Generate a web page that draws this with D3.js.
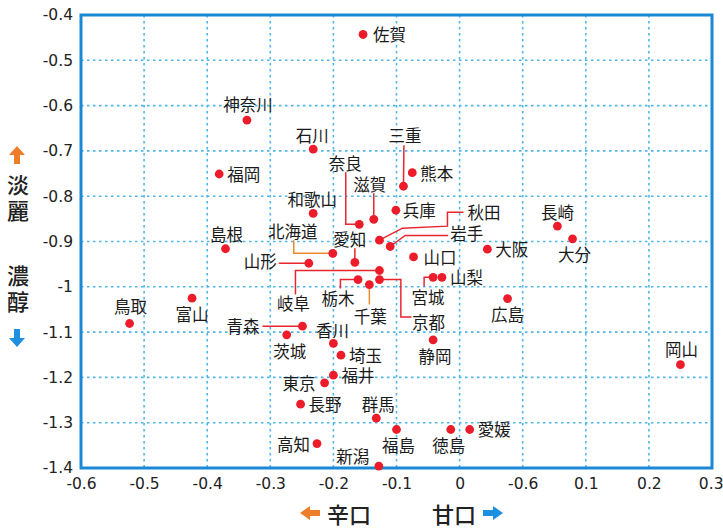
<!DOCTYPE html>
<html lang="ja">
<head>
<meta charset="utf-8">
<script src="https://cdn.jsdelivr.net/npm/d3@7.9.0/dist/d3.min.js"></script>
<style>
  html, body { margin: 0; padding: 0; background: #fff; }
  svg { display: block; }
  .tick text { font-family: "DejaVu Sans", sans-serif; font-size: 15.5px; fill: #222; }
  .pref { font-family: "Noto Sans CJK JP", sans-serif; font-size: 16.5px; fill: #1a1a1a; }
  .title { font-family: "Noto Sans CJK JP", sans-serif; font-size: 22px; fill: #222; font-weight: 500; }
</style>
</head>
<body>
<svg id="chart" width="723" height="528"></svg>
<script>
// prefecture, sweetness (x), richness (y)
const prefectures = ['佐賀', '神奈川', '福岡', '石川', '三重', '熊本', '滋賀', '奈良', '兵庫', '和歌山',
  '秋田', '岩手', '愛知', '北海道', '山形', '岐阜', '山口', '宮城', '山梨', '栃木',
  '千葉', '京都', '青森', '茨城', '香川', '静岡', '埼玉', '福井', '東京', '長野',
  '群馬', '福島', '徳島', '愛媛', '高知', '新潟', '岡山', '長崎', '大分', '大阪',
  '広島', '島根', '鳥取', '富山'];
const sweetness = [-0.153, -0.337, -0.381, -0.232, -0.089, -0.075, -0.136, -0.159, -0.101, -0.232,
  -0.127, -0.110, -0.166, -0.201, -0.239, -0.127, -0.073, -0.042, -0.028, -0.161,
  -0.143, -0.127, -0.249, -0.274, -0.200, -0.042, -0.188, -0.200, -0.214, -0.252,
  -0.132, -0.100, -0.014, 0.016, -0.226, -0.128, 0.350, 0.155, 0.179, 0.044,
  0.076, -0.371, -0.523, -0.424];
const richness = [-0.443, -0.632, -0.751, -0.696, -0.778, -0.748, -0.851, -0.862, -0.831, -0.838,
  -0.897, -0.911, -0.946, -0.926, -0.948, -0.964, -0.934, -0.979, -0.979, -0.984,
  -0.995, -0.984, -1.087, -1.106, -1.125, -1.117, -1.151, -1.195, -1.212, -1.259,
  -1.290, -1.315, -1.315, -1.315, -1.346, -1.396, -1.172, -0.866, -0.894, -0.917,
  -1.026, -0.916, -1.081, -1.025];

const xTicks = [-0.6, -0.5, -0.4, -0.3, -0.2, -0.1, 0, 0.1, 0.2, 0.3, 0.4];
const xTickLabels = ['-0.6', '-0.5', '-0.4', '-0.3', '-0.2', '-0.1', '0', '-0.6', '0.1', '0.2', '0.3'];
const yTicks = [-0.4, -0.5, -0.6, -0.7, -0.8, -0.9, -1, -1.1, -1.2, -1.3, -1.4];
const yTickLabels = ['-0.4', '-0.5', '-0.6', '-0.7', '-0.8', '-0.9', '-1', '-1.1', '-1.2', '-1.3', '-1.4'];

// label placement: [anchor, dx, dy] relative to the dot, plus optional leader path offsets
const labelPos = {
  '佐賀': ['start', 10, 0], '神奈川': ['middle', 1, -16], '福岡': ['start', 8, 0],
  '石川': ['middle', -1, -14], '三重': ['middle', 1.5, -51], '熊本': ['start', 8, 0],
  '滋賀': ['middle', -4, -35], '奈良': ['middle', -14, -61], '兵庫': ['start', 7, 0],
  '和歌山': ['middle', -1, -14], '秋田': ['start', 88, -28], '岩手': ['start', 60, -13],
  '愛知': ['middle', -5, -23], '北海道': ['middle', -40, -22], '山形': ['end', -32, -2],
  '岐阜': ['middle', -86, 33], '山口': ['start', 10, 0], '宮城': ['middle', -5, 20],
  '山梨': ['start', 8, 0], '栃木': ['middle', -20, 18], '千葉': ['middle', 1, 31],
  '京都': ['middle', 49, 42], '青森': ['end', -43, 0], '茨城': ['middle', 3, 16],
  '香川': ['middle', -1, -13], '静岡': ['middle', 2, 16], '埼玉': ['start', 8, 0],
  '福井': ['start', 8, 0], '東京': ['end', -9, 0], '長野': ['start', 8, 0],
  '群馬': ['middle', 2, -14], '福島': ['middle', 2, 16], '徳島': ['middle', -2, 16],
  '愛媛': ['start', 8, 0], '高知': ['end', -7, 0], '新潟': ['middle', -26, -10],
  '岡山': ['middle', 1, -16], '長崎': ['middle', 0, -14], '大分': ['middle', 2, 15],
  '大阪': ['start', 8, 0], '広島': ['middle', 0, 15], '島根': ['middle', 1, -15],
  '鳥取': ['middle', 1, -17], '富山': ['middle', 0, 16]
};
const leaders = {
  '三重': [[0.5, -41], [0, 0]],
  '奈良': [[-13.5, -52], [-13.5, 0], [0, 0]],
  '滋賀': [[0, -26], [0, 0]],
  '北海道': [[-39, -13], [-39, 0], [0, 0]],
  '愛知': [[0, -14], [0, 0]],
  '秋田': [[0, 0], [23, -12], [68, -14], [68, -28], [84, -28]],
  '岩手': [[0, 0], [15, -11], [58, -11]],
  '山形': [[-30, 0], [0, 0]],
  '岐阜': [[-84, 24], [-84, 0], [0, 0]],
  '宮城': [[-9, 9], [-9, 0], [0, 0]],
  '栃木': [[-17.6, 9], [-17.6, 0], [0, 0]],
  '千葉': [[0, 0], [0, 20]],
  '京都': [[0, 0], [21.4, 0], [21.4, 37.4], [32, 37.4]],
  '青森': [[-40, 0], [0, 0]]
};
const orangeLeaders = ['千葉', '北海道'];

const svg = d3.select('#chart');
const margin = { top: 15, right: 11, bottom: 60, left: 81 };
const width = 723 - margin.left - margin.right;
const height = 528 - margin.top - margin.bottom;
const g = svg.append('g').attr('transform', `translate(${margin.left},${margin.top})`);

const x = d3.scaleLinear().domain([-0.6, 0.4]).range([0, width]);
const y = d3.scaleLinear().domain([-1.4, -0.4]).range([height, 0]);

// grid
g.append('g').selectAll('line').data(xTicks.slice(1, -1)).join('line')
  .attr('x1', d => x(d)).attr('x2', d => x(d)).attr('y1', 0).attr('y2', height)
  .attr('stroke', '#4fb6ea').attr('stroke-width', 1.6).attr('stroke-dasharray', '2.5,3.5');
g.append('g').selectAll('line').data(yTicks.slice(1, -1)).join('line')
  .attr('y1', d => y(d)).attr('y2', d => y(d)).attr('x1', 0).attr('x2', width)
  .attr('stroke', '#4fb6ea').attr('stroke-width', 1.6).attr('stroke-dasharray', '2.5,3.5');

// axes
const xAxis = g.append('g').attr('transform', `translate(0,${height})`)
  .call(d3.axisBottom(x).tickValues(xTicks).tickFormat((d, i) => xTickLabels[i]).tickSize(0).tickPadding(10));
const yAxis = g.append('g')
  .call(d3.axisLeft(y).tickValues(yTicks).tickFormat((d, i) => yTickLabels[i]).tickSize(0).tickPadding(8));
xAxis.select('.domain').remove();
yAxis.select('.domain').remove();
// last x label sits against the right edge, as in the original
xAxis.selectAll('.tick').filter((d, i) => i === xTicks.length - 1).select('text')
  .attr('text-anchor', 'end').attr('dx', 11);

// frame
g.append('rect').attr('x', 0).attr('y', 0).attr('width', width).attr('height', height)
  .attr('fill', 'none').attr('stroke', '#1b88d6').attr('stroke-width', 3);

const points = prefectures.map((name, i) => ({ name, cx: x(sweetness[i]), cy: y(richness[i]) }));

// leader lines
const line = d3.line();
g.append('g').selectAll('path').data(points.filter(p => leaders[p.name])).join('path')
  .attr('d', p => line(leaders[p.name].map(([dx, dy]) => [p.cx + dx, p.cy + dy])))
  .attr('fill', 'none')
  .attr('stroke', p => orangeLeaders.includes(p.name) ? '#ee8a2a' : '#e8262e')
  .attr('stroke-width', 1.5);

// dots
g.append('g').selectAll('circle').data(points).join('circle')
  .attr('cx', p => p.cx).attr('cy', p => p.cy).attr('r', 4.4)
  .attr('fill', '#ec1c2a');

// labels
g.append('g').selectAll('text').data(points).join('text')
  .attr('class', 'pref')
  .attr('x', p => p.cx + labelPos[p.name][1])
  .attr('y', p => p.cy + labelPos[p.name][2])
  .attr('text-anchor', p => labelPos[p.name][0])
  .attr('dominant-baseline', 'central')
  .text(p => p.name);

// axis titles
const arrow = (cx, cy, dir, color) => {
  const pts = { up: [[0, -9], [8, 0], [3, 0], [3, 9], [-3, 9], [-3, 0], [-8, 0]],
    down: [[0, 9], [8, 0], [3, 0], [3, -9], [-3, -9], [-3, 0], [-8, 0]],
    left: [[-10, 0], [0, -7], [0, -3], [10, -3], [10, 3], [0, 3], [0, 7]],
    right: [[10, 0], [0, -7], [0, -3], [-10, -3], [-10, 3], [0, 3], [0, 7]] }[dir];
  svg.append('path').attr('d', line(pts.map(([a, b]) => [cx + a, cy + b])) + 'Z').attr('fill', color);
};
arrow(17, 155, 'up', '#ee7d2a');
arrow(17, 338, 'down', '#1d8fe0');
[['淡', 183], ['麗', 209], ['濃', 274], ['醇', 300]].forEach(([t, yy]) => {
  svg.append('text').attr('class', 'title').attr('x', 18).attr('y', yy)
    .attr('text-anchor', 'middle').attr('dominant-baseline', 'central').text(t);
});
arrow(310, 513, 'left', '#ee7d2a');
svg.append('text').attr('class', 'title').attr('x', 349).attr('y', 513)
  .attr('text-anchor', 'middle').attr('dominant-baseline', 'central').text('辛口');
svg.append('text').attr('class', 'title').attr('x', 454).attr('y', 513)
  .attr('text-anchor', 'middle').attr('dominant-baseline', 'central').text('甘口');
arrow(493, 513, 'right', '#1d8fe0');
</script>
</body>
</html>
